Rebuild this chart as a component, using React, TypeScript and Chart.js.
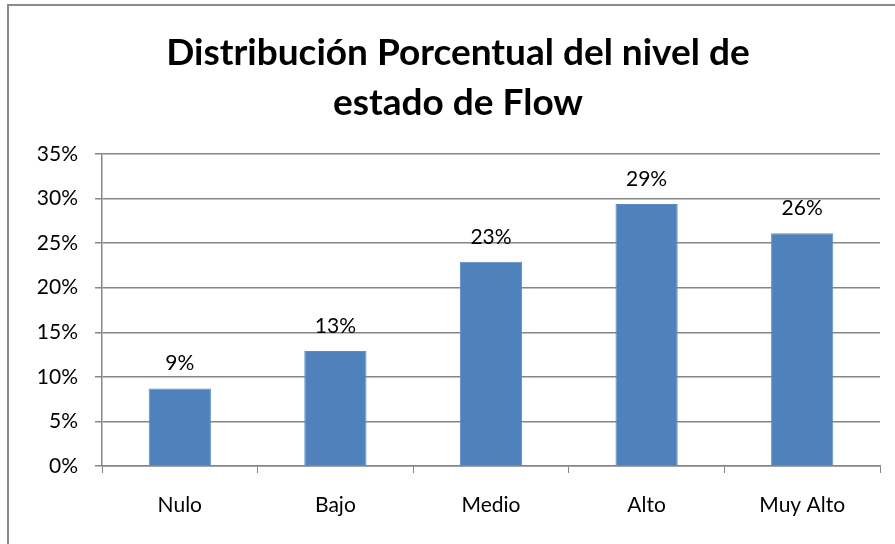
import React, { useEffect, useRef } from "react";
import { Chart, registerables } from "chart.js";

Chart.register(...registerables);

const titleLines = ["Distribución Porcentual del nivel de", "estado de Flow"];
const categories = ["Nulo", "Bajo", "Medio", "Alto", "Muy Alto"];
const values = [8.7, 12.9, 22.9, 29.4, 26.1];
const valueLabels = ["9%", "13%", "23%", "29%", "26%"];
const yMax = 35;
const yStep = 5;

const FONT = "Lato, 'Liberation Sans', sans-serif";

export default function App() {
  const ref = useRef<HTMLCanvasElement | null>(null);

  useEffect(() => {
    if (!ref.current) return;
    const titlePlugin = {
      id: "customTitle",
      afterDraw(chart: any) {
        const ctx = chart.ctx;
        ctx.save();
        ctx.fillStyle = "#000";
        ctx.font = `bold 37px ${FONT}`;
        ctx.textAlign = "center";
        ctx.textBaseline = "middle";
        const cx = 458;
        titleLines.forEach((t, i) => ctx.fillText(t, cx, 53 + i * 50));
        ctx.restore();
      },
    };
    const labelPlugin = {
      id: "valueLabels",
      afterDatasetsDraw(chart: any) {
        const ctx = chart.ctx;
        const meta = chart.getDatasetMeta(0);
        ctx.save();
        ctx.fillStyle = "#000";
        ctx.font = `21px ${FONT}`;
        ctx.textAlign = "center";
        ctx.textBaseline = "alphabetic";
        meta.data.forEach((el: any, i: number) => {
          ctx.fillText(valueLabels[i], el.x, el.y - 18);
        });
        ctx.restore();
      },
    };
    const chart = new Chart(ref.current, {
      type: "bar",
      data: {
        labels: categories,
        datasets: [
          {
            data: values,
            backgroundColor: "#4F81BD",
            borderColor: "#5B8CC8",
            borderWidth: 1,
            barPercentage: 0.4,
            categoryPercentage: 1,
          },
        ],
      },
      options: {
        animation: false,
        responsive: false,
        maintainAspectRatio: false,
        layout: { padding: { top: 154, right: 15, left: 0, bottom: 0 } },
        plugins: {
          legend: { display: false },
          title: { display: false },
          tooltip: { enabled: false },
        },
        scales: {
          x: {
            afterFit(scale: any) {
              scale.height = 78;
            },
            grid: {
              offset: true,
              drawOnChartArea: false,
              drawTicks: true,
              tickLength: 7,
              color: "#868686",
              lineWidth: 1,
            },
            border: { display: true, color: "#868686", width: 1.5 },
            ticks: {
              color: "#000",
              font: { family: FONT, size: 21 },
              padding: 20,
              maxRotation: 0,
            },
          },
          y: {
            min: 0,
            max: yMax,
            afterFit(scale: any) {
              scale.width = 102;
            },
            grid: {
              color: "#868686",
              lineWidth: 1.5,
              drawTicks: true,
              tickLength: 7,
            },
            border: { display: true, color: "#868686", width: 1.5 },
            ticks: {
              stepSize: yStep,
              color: "#000",
              font: { family: FONT, size: 21 },
              padding: 17,
              callback: (v: any) => `${v}%`,
            },
          },
        },
      },
      plugins: [titlePlugin, labelPlugin],
    });
    return () => chart.destroy();
  }, []);

  return (
    <div
      style={{
        position: "fixed",
        left: 0,
        top: 0,
        width: 895,
        height: 544,
        overflow: "hidden",
        background: "#fff",
      }}
    >
      <div
        style={{
          position: "absolute",
          left: 7,
          top: 4,
          width: 900,
          height: 560,
          border: "2px solid #8a8a8a",
          boxSizing: "border-box",
        }}
      />
      <canvas
        ref={ref}
        width={895}
        height={544}
        style={{ position: "absolute", left: 0, top: 0, width: 895, height: 544 }}
      />
    </div>
  );
}
